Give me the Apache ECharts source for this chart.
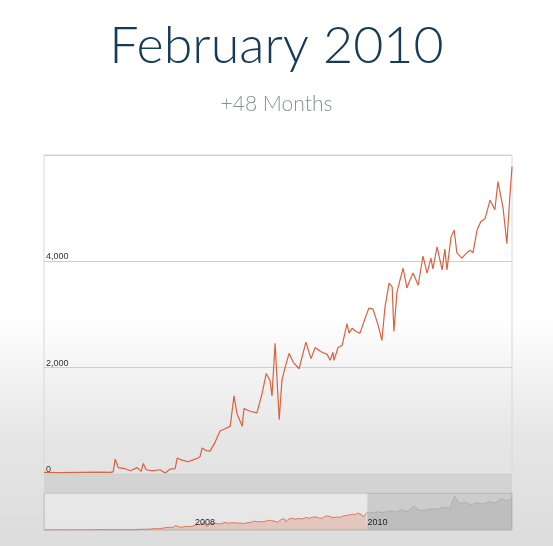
<!DOCTYPE html>
<html><head><meta charset="utf-8">
<script src="https://cdn.jsdelivr.net/npm/echarts@6/dist/echarts.min.js"></script>
<style>
html,body{margin:0;padding:0;width:553px;height:546px;overflow:hidden;background:linear-gradient(to bottom,#ffffff 0%,#ffffff 58%,#e6e6e6 80%,#dcdcdc 100%);}
#c{width:553px;height:546px;}
</style></head><body><div id="c"></div>
<script>
const dates=['2006-04-04','2006-05-21','2006-07-19','2006-09-15','2006-10-14','2006-10-23','2006-10-29','2006-11-07','2006-11-27','2006-12-12','2007-01-01','2007-01-13','2007-01-19','2007-01-27','2007-02-14','2007-03-09','2007-03-24','2007-04-07','2007-04-22','2007-04-28','2007-05-12','2007-05-30','2007-06-19','2007-06-28','2007-07-04','2007-07-10','2007-07-21','2007-08-02','2007-08-17','2007-08-31','2007-09-15','2007-09-30','2007-10-11','2007-10-20','2007-11-04','2007-11-09','2007-11-27','2007-12-17','2008-01-01','2008-01-13','2008-01-24','2008-01-30','2008-02-08','2008-02-20','2008-02-28','2008-03-08','2008-03-20','2008-04-01','2008-04-18','2008-05-08','2008-05-23','2008-06-04','2008-06-21','2008-07-09','2008-07-18','2008-07-26','2008-07-29','2008-08-10','2008-08-22','2008-09-05','2008-09-11','2008-09-20','2008-10-01','2008-10-13','2008-10-28','2008-11-08','2008-11-20','2008-12-05','2008-12-16','2008-12-25','2009-01-06','2009-01-15','2009-01-20','2009-01-29','2009-02-07','2009-02-16','2009-02-27','2009-03-08','2009-03-17','2009-04-01','2009-04-15','2009-04-27','2009-05-08','2009-05-14','2009-05-26','2009-06-10','2009-06-18','2009-06-24','2009-07-06','2009-07-15','2009-07-23','2009-08-07','2009-08-19','2009-08-30','2009-09-08','2009-09-20','2009-10-01','2009-10-13','2009-10-28','2009-11-11','2009-11-20','2009-12-05','2009-12-16','2009-12-25','2009-12-31'];
const values=[30,25,30,35,30,40,280,120,100,60,120,50,200,80,60,80,20,90,100,300,260,230,280,300,330,490,440,430,600,810,850,900,1470,1130,900,1230,1180,1150,1510,1890,1760,1470,2460,1020,1760,2000,2270,2100,1980,2480,2170,2380,2300,2250,2140,2290,2140,2380,2420,2830,2650,2740,2680,2650,2930,3120,3100,2800,2510,3140,3590,3520,2680,3420,3650,3870,3500,3650,3780,3550,4100,3780,4060,3860,4270,3840,4230,3840,4460,4590,4160,4060,4150,4210,4160,4590,4750,4800,5150,4970,5500,5000,4330,5250,5780];
const futureDates=['2009-12-31','2010-01-20','2010-02-15','2010-03-10','2010-04-05','2010-05-01','2010-05-25','2010-06-20','2010-07-15','2010-08-10','2010-09-05','2010-10-01','2010-10-25','2010-11-20','2010-12-15','2011-01-05','2011-01-25','2011-02-20','2011-03-15','2011-04-10','2011-05-05','2011-06-01','2011-06-25','2011-07-20','2011-08-15','2011-09-05'];
const futureValues=[5780,5600,5900,5700,6200,5800,6600,6000,7800,6300,6500,6900,6700,7400,7000,11000,8600,9000,8200,8800,8400,9200,8700,10200,9400,10500];
const gridLines=[['2006-07-01','Jul',false],['2007-01-01','2007',true],['2007-07-01','Jul',false],['2008-01-01','2008',true],['2008-07-01','Jul',false],['2009-01-01','2009',true],['2009-07-01','Jul',false]];
const yTicks=[0,2000,4000];
const navLabels=[['2008-01-01','2008'],['2010-01-01','2010']];

const chart=echarts.init(document.getElementById('c'));
const red='#d9623f';
chart.setOption({
  backgroundColor:'transparent',
  animation:false,
  title:[{text:'February 2010',left:'center',top:15,textStyle:{fontFamily:'Lato',fontWeight:300,fontSize:52,color:'#173a5a'}},
         {text:'+48 Months',left:'center',top:89,textStyle:{fontFamily:'Lato',fontWeight:300,fontSize:21,color:'#8a8f94'}}],
  graphic:[{type:'rect',left:44,top:474,shape:{width:468,height:18},style:{fill:'#d3d3d3'},z:-1}],
  grid:[{left:44,right:41,top:155,bottom:72,show:true,borderColor:'#d8d8d8',borderWidth:1,backgroundColor:'transparent'},
        {left:44,right:41,top:493,height:37,show:true,borderColor:'#b8b8b8',borderWidth:1,backgroundColor:'rgba(255,255,255,0.25)'}],
  xAxis:[{type:'time',gridIndex:0,min:'2006-04-04',max:'2009-12-31',axisLine:{show:false},axisTick:{show:false},axisLabel:{show:false},splitLine:{show:false}},
         {type:'time',gridIndex:1,min:'2006-04-01',max:'2011-09-05',show:false}],
  yAxis:[{type:'value',gridIndex:0,min:0,max:6000,interval:2000,axisLine:{show:false},axisTick:{show:false},
          splitLine:{lineStyle:{color:'#cfcfcf'}},
          axisLabel:{inside:true,verticalAlign:'bottom',margin:2,fontSize:9,color:'#333',fontFamily:'Arial',
            formatter:v=>yTicks.includes(v)?v.toLocaleString('en-US'):''}},
         {type:'value',gridIndex:1,min:0,max:12000,show:false}],
  series:[
    {type:'line',xAxisIndex:0,yAxisIndex:0,data:dates.map((d,i)=>[d,values[i]]),showSymbol:false,lineStyle:{color:red,width:1.2},itemStyle:{color:red},z:3,
     markLine:{silent:true,symbol:'none',lineStyle:{color:'#d0d0d0',type:'solid',width:1},
       data:gridLines.map(g=>[{coord:[g[0],0],label:{show:true,position:'start',distance:6,formatter:g[1],fontSize:9,fontFamily:'Arial',color:'#222',fontWeight:g[2]?'bold':'normal'}},{coord:[g[0],12000]}])}},
    {type:'line',xAxisIndex:1,yAxisIndex:1,data:dates.map((d,i)=>[d,values[i]]),showSymbol:false,lineStyle:{color:red,width:0.8},areaStyle:{color:'rgba(217,98,63,0.35)'},
     markLine:{silent:true,symbol:'none',z:10,lineStyle:{color:'rgba(0,0,0,0)',width:1},
       data:navLabels.map(g=>[{coord:[g[0],0],label:{show:true,position:'start',distance:-12,formatter:g[1],fontSize:9,fontFamily:'Arial',color:'#222',align:'left'}},{coord:[g[0],12000]}])}},
    {type:'line',xAxisIndex:1,yAxisIndex:1,data:futureDates.map((d,i)=>[d,futureValues[i]]),showSymbol:false,lineStyle:{color:'#aaa',width:0.8},areaStyle:{color:'rgba(160,160,160,0.45)'},
     markArea:{silent:true,itemStyle:{color:'rgba(140,140,140,0.3)'},data:[[{xAxis:'2009-12-31'},{xAxis:'2011-09-05'}]]}}
  ]
});
</script></body></html>
